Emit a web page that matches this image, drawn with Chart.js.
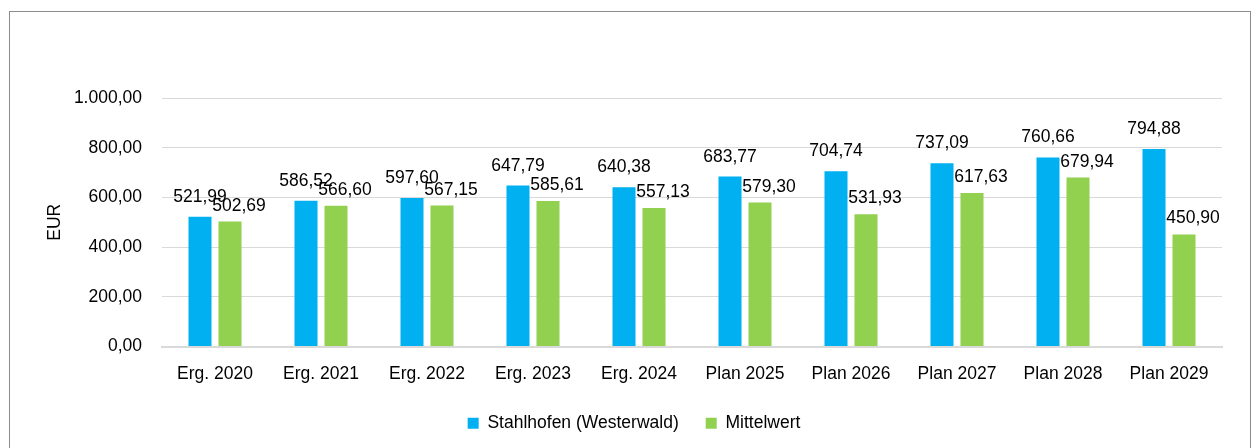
<!DOCTYPE html>
<html>
<head>
<meta charset="utf-8">
<script src="https://cdn.jsdelivr.net/npm/chart.js@4.4.0/dist/chart.umd.min.js"></script>
<style>
  body { margin: 0; background: #fff; }
  .frame { position: absolute; left: 9px; top: 11px; width: 1240px; height: 460px; border: 1px solid #8c8c8c; }
  canvas { position: absolute; left: 0; top: 0; }
</style>
</head>
<body>
<div class="frame"></div>
<canvas id="chart" width="1257" height="448"></canvas>
<script>
// Daten
const categories = ['Erg. 2020', 'Erg. 2021', 'Erg. 2022', 'Erg. 2023', 'Erg. 2024',
  'Plan 2025', 'Plan 2026', 'Plan 2027', 'Plan 2028', 'Plan 2029'];
const stahlhofen = [521.99, 586.52, 597.60, 647.79, 640.38, 683.77, 704.74, 737.09, 760.66, 794.88];
const mittelwert = [502.69, 566.60, 567.15, 585.61, 557.13, 579.30, 531.93, 617.63, 679.94, 450.90];
const yTicks = [0, 200, 400, 600, 800, 1000];

const FONT = '"Liberation Sans", Arial, sans-serif';
const FS = 17.5;

// Zahlen im deutschen Format (1.000,00)
function fmt(v) {
  const parts = v.toFixed(2).split('.');
  parts[0] = parts[0].replace(/\B(?=(\d{3})+(?!\d))/g, '.');
  return parts[0] + ',' + parts[1];
}

// Beschriftung über den Balken
const valueLabels = {
  id: 'valueLabels',
  afterLayout(chart) {
    // Legende etwas nach rechts (mittig unter dem Bild)
    chart.legend.left += 46;
  },
  afterDatasetsDraw(chart) {
    const ctx = chart.ctx;
    ctx.save();
    ctx.font = FS + 'px ' + FONT;
    ctx.fillStyle = '#000';
    ctx.textAlign = 'center';
    ctx.textBaseline = 'alphabetic';
    chart.data.datasets.forEach((ds, di) => {
      const meta = chart.getDatasetMeta(di);
      meta.data.forEach((bar, i) => {
        const dx = di === 1 ? 9 : 0;
        const dy = di === 0 ? 15 : 11;
        ctx.fillText(fmt(ds.data[i]), bar.x + dx, bar.y - dy);
      });
    });
    ctx.restore();
  }
};

const ctx = document.getElementById('chart').getContext('2d');
const chart = new Chart(ctx, {
  type: 'bar',
  data: {
    labels: categories,
    datasets: [{
      label: 'Stahlhofen (Westerwald)',
      data: stahlhofen,
      backgroundColor: '#00B0F0'
    }, {
      label: 'Mittelwert',
      data: mittelwert,
      backgroundColor: '#92D050'
    }]
  },
  options: {
    responsive: false,
    animation: false,
    devicePixelRatio: 1,
    categoryPercentage: 0.566,
    barPercentage: 0.767,
    layout: { padding: { left: 0, right: 35, top: 98, bottom: 6 } },
    scales: {
      x: {
        grid: { display: false },
        border: { display: true, color: '#d9d9d9', width: 2 },
        ticks: { color: '#000', font: { family: FONT, size: FS }, padding: 9 },
        afterFit(scale) { scale.height = 41; }
      },
      y: {
        min: 0,
        max: 1000,
        afterBuildTicks(scale) { scale.ticks = yTicks.map(v => ({ value: v })); },
        grid: { color: '#d9d9d9', lineWidth: 1, drawTicks: false },
        border: { display: false },
        ticks: { color: '#000', font: { family: FONT, size: FS }, padding: 20, callback: v => fmt(v) },
        title: { display: true, text: 'EUR', color: '#000', font: { family: FONT, size: FS }, padding: { top: 45, bottom: 0 } },
        afterFit(scale) { scale.width = 162; }
      }
    },
    plugins: {
      legend: {
        position: 'bottom',
        labels: {
          boxWidth: 11,
          boxHeight: 11,
          padding: 27,
          color: '#000',
          font: { family: FONT, size: FS }
        }
      },
      tooltip: { enabled: false }
    }
  },
  plugins: [valueLabels]
});
</script>
</body>
</html>
